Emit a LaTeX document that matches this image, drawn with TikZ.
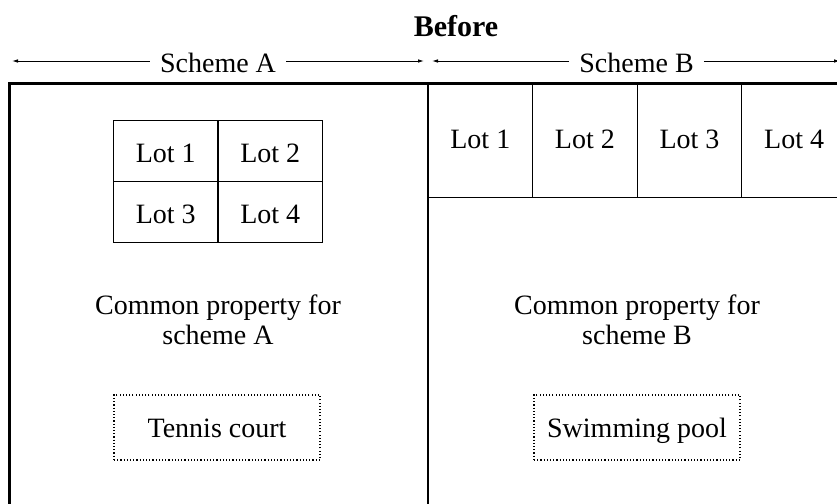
\documentclass[tikz,border=0pt]{standalone}
\usepackage{fontspec}
\setmainfont{Liberation Serif}
\usetikzlibrary{arrows.meta}
\tikzset{
  txt/.style={font=\fontsize{28}{30}\selectfont, inner sep=0pt},
  lotA/.style={draw, line width=1.1pt, minimum width=104.5pt, minimum height=61pt, inner sep=0pt, text height=23pt, text depth=0pt, font=\fontsize{28}{30}\selectfont},
  lotB/.style={draw, line width=1.1pt, minimum width=104.6pt, minimum height=113.5pt, inner sep=0pt, text height=15pt, text depth=0pt, font=\fontsize{28}{30}\selectfont},
  dotbox/.style={draw, line width=1.2pt, dash pattern=on 1.1pt off 2.1pt, minimum width=206pt, minimum height=65pt, inner sep=0pt, text height=19pt, text depth=0pt, font=\fontsize{28}{30}\selectfont},
  thin/.style={line width=1.1pt},
  dimarrow/.style={line width=0.9pt, -{Latex[length=6pt,width=3.6pt]}},
  heading/.style={font=\fontsize{30}{32}\selectfont\bfseries, inner sep=0pt},
}
\begin{document}
\begin{tikzpicture}[x=1pt,y=-1pt]
\useasboundingbox (0,0) rectangle (837,503);
\clip (0,0) rectangle (837,503);
% heading
\node[heading, anchor=base] (before) at (456,37) {Before};
% scheme labels with arrows
\node[txt, anchor=base, inner xsep=10pt] (sa) at (218,72) {Scheme A};
\node[txt, anchor=base, inner xsep=10pt] (sb) at (636.5,72) {Scheme B};
\coordinate (aL) at (12,61);
\coordinate (aR) at (424,61);
\coordinate (bL) at (432,61);
\coordinate (bR) at (840,61);
\draw[dimarrow] (sa.west |- aL) -- (aL);
\draw[dimarrow] (sa.east |- aR) -- (aR);
\draw[dimarrow] (sb.west |- bL) -- (bL);
\draw[dimarrow] (sb.east |- bR) -- (bR);
% outer frame and divisions
\coordinate (tl) at (9,83.5);
\draw[thin] (428,83.5) -- (428,510);
\draw[thin] (428,197.5) -- (850,197.5);
% scheme A lots
\node[lotA] (a1) at (165.75,151) {Lot 1};
\node[lotA] (a2) at (270.25,151) {Lot 2};
\node[lotA] (a3) at (165.75,212) {Lot 3};
\node[lotA] (a4) at (270.25,212) {Lot 4};
% scheme B lots
\node[lotB] (b1) at (480.3,140.5) {Lot 1};
\node[lotB] (b2) at (584.9,140.5) {Lot 2};
\node[lotB] (b3) at (689.5,140.5) {Lot 3};
\node[lotB] (b4) at (794.1,140.5) {Lot 4};
\draw[line width=3pt] (9,520) -- (tl) -- (850,83.5);
% common property
\node[txt, align=center] (cpa) at (218,320) {Common property for\\scheme A};
\node[txt, align=center] (cpb) at (637,320) {Common property for\\scheme B};
% facilities
\node[dotbox] (tennis) at (217,427.5) {Tennis court};
\node[dotbox] (pool) at (637,427.5) {Swimming pool};
\end{tikzpicture}
\end{document}
